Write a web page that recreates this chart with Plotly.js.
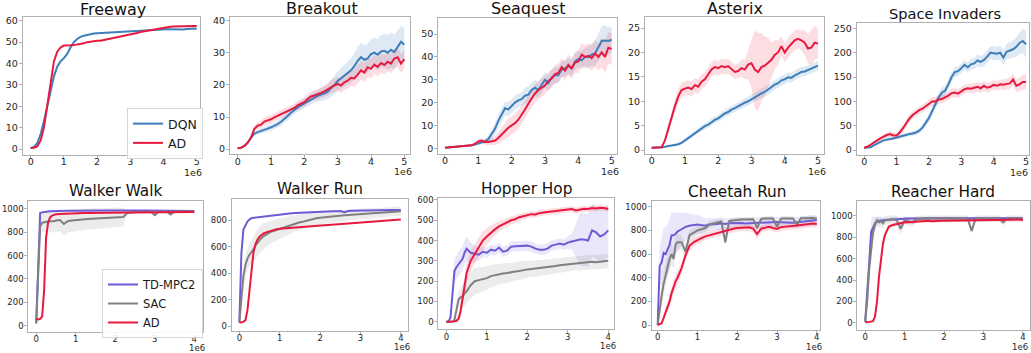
<!DOCTYPE html>
<html><head><meta charset="utf-8">
<script src="https://cdn.plot.ly/plotly-3.0.1.min.js"></script>
<style>html,body{margin:0;padding:0;background:#fff}#chart{width:1031px;height:353px}</style>
</head><body><div id="chart"></div>
<script>
// ---------- x grids (environment steps, in units of 1e6) ----------
const ATARI_X = [0,0.1,0.2,0.3,0.4,0.5,0.6,0.7,0.8,0.9,1.0,1.1,1.2,1.3,1.4,1.5,1.6,1.7,1.8,1.9,2.0,2.1,2.2,2.3,2.4,2.5,2.6,2.7,2.8,2.9,3.0,3.1,3.2,3.3,3.4,3.5,3.6,3.7,3.8,3.9,4.0,4.1,4.2,4.3,4.4,4.5,4.6,4.7,4.8,4.9,5.0];
const DMC_X = [0,0.05,0.1,0.15,0.2,0.25,0.3,0.35,0.4,0.45,0.5,0.6,0.7,0.8,0.9,1.0,1.1,1.2,1.3,1.4,1.5,1.6,1.7,1.8,1.9,2.0,2.1,2.2,2.3,2.4,2.5,2.6,2.7,2.8,2.9,3.0,3.1,3.2,3.3,3.4,3.5,3.6,3.7,3.8,3.9,4.0];

// ---------- Atari ----------
const freewayDQN = [0.5,1.0,2.8,7,13,20,28,34,38.5,41,42.5,44.5,47.5,50,51.5,52.5,53,53.4,53.7,54.0,54.2,54.3,54.3,54.4,54.5,54.6,54.7,54.8,54.9,55.0,55.1,55.2,55.3,55.4,55.5,55.6,55.7,55.8,55.9,56.0,56.0,56.0,56.0,55.9,55.8,55.8,55.9,56.1,56.3,56.4,56.3];
const freewayAD = [0.5,0.6,1.2,4,10,20,32,41,45.5,47.5,48.4,48.6,48.5,48.6,48.8,49.1,49.5,50.0,50.3,50.5,50.6,50.7,51.0,51.3,51.6,52.0,52.3,52.6,53.0,53.4,53.7,54.0,54.3,54.7,55.0,55.3,55.6,55.9,56.1,56.4,56.7,57.0,57.2,57.3,57.4,57.5,57.5,57.5,57.5,57.6,57.6];

const breakoutDQN = [0.3,0.4,1.0,2.0,3.5,4.8,5.3,5.6,6.0,6.4,6.8,7.2,7.8,8.5,9.3,10.3,11.3,12.3,13.0,13.6,14.2,14.8,15.6,16.2,16.6,17.0,17.3,17.9,18.8,20.0,21.2,22.0,23.0,23.6,24.5,25.8,27.5,28.6,27.8,28.2,29.6,30.0,29.4,30.4,30.6,30.0,30.9,30.2,31.8,33.4,32.5];
const breakoutDQNsd = [0.2,0.2,0.3,0.4,0.5,0.6,0.7,0.8,0.9,1.0,1.0,1.0,1.1,1.2,1.2,1.3,1.3,1.4,1.4,1.5,1.5,1.6,1.6,1.7,1.8,2.0,2.2,2.4,2.6,2.8,3.0,3.2,3.4,3.6,3.8,4.0,4.2,4.4,4.5,4.6,4.6,4.7,4.8,5.0,5.2,5.4,5.5,5.5,5.3,5.0,5.0];
const breakoutAD = [0.3,0.4,1.0,2.0,3.6,6.3,7.3,7.6,8.6,8.9,9.3,9.9,10.4,10.8,11.4,11.9,12.4,12.8,13.6,14.2,14.6,15.6,16.4,16.7,17.0,17.5,18.0,18.6,19.4,19.8,20.3,19.8,20.8,21.3,22.2,22.0,23.2,24.5,23.8,25.5,25.0,26.3,25.6,26.8,26.2,27.2,26.6,28.2,28.6,26.6,28.0];
const breakoutADsd = [0.2,0.2,0.3,0.4,0.6,0.8,1.0,1.2,1.3,1.3,1.3,1.3,1.3,1.3,1.3,1.3,1.3,1.3,1.4,1.4,1.4,1.5,1.5,1.6,1.6,1.7,1.8,1.9,2.0,2.1,2.2,2.3,2.4,2.5,2.6,2.7,2.8,2.9,3.0,3.0,3.0,3.0,3.0,3.0,3.0,3.0,3.0,3.0,3.0,3.0,3.0];

const seaquestDQN = [0.2,0.3,0.4,0.5,0.7,0.8,0.9,1.1,1.3,1.6,2.0,2.4,3.0,4.0,6.0,8.5,12,15,17.5,17,18.5,20,21,21.5,23,23.5,25.5,26.5,25.5,28,30,28.5,31,32,32,34.5,35,36,35,38,39,38.5,40,40,41,41.5,44.5,47,47.2,47,47.5];
const seaquestDQNsd = [0.2,0.2,0.2,0.2,0.3,0.3,0.3,0.4,0.4,0.5,0.6,0.8,1.0,1.5,2.0,2.5,3.0,3.0,3.0,3.0,3.0,3.0,3.0,3.0,3.5,3.5,3.5,3.5,3.5,3.5,3.5,3.5,3.5,3.5,3.5,3.5,3.5,3.5,3.5,3.5,3.5,4.0,4.0,4.5,5.0,5.5,6.0,6.5,6.5,6.0,5.5];
const seaquestAD = [0.2,0.3,0.4,0.5,0.7,0.8,0.9,1.1,1.3,2.0,3.0,3.4,2.8,2.8,3.0,3.4,4.5,6.0,7.5,9.0,10,11,12.5,14.5,17,19.5,22,24,25.5,26.5,27.5,29.5,30.5,32.5,33,35.5,34,36.5,35,37.5,38,41,40,40.5,39.5,41.5,40,42,40,44,43.5];
const seaquestADsd = [0.2,0.2,0.2,0.2,0.3,0.3,0.3,0.4,0.4,0.6,0.8,1.0,1.2,1.5,1.8,2.0,2.5,3.0,3.5,4.0,4.0,4.0,4.0,4.0,4.0,4.0,4.0,4.0,4.0,4.0,4.0,4.0,4.0,4.0,4.0,4.0,4.0,4.5,4.5,4.5,5.0,5.0,5.0,5.5,5.5,6.0,6.0,6.5,7.0,7.0,7.0];

const asterixDQN = [0.5,0.5,0.5,0.6,0.7,0.8,0.9,1.0,1.2,1.5,2.0,2.5,3.0,3.5,4.0,4.4,4.9,5.2,5.8,6.2,6.5,7.0,7.5,7.8,8.3,8.6,9.0,9.3,9.7,10.0,10.4,10.9,11.2,11.6,11.9,12.4,12.8,13.4,13.7,14.3,14.5,14.9,14.8,15.3,15.6,16.0,16.1,16.4,16.7,17.0,17.3];
const asterixDQNsd = [0.1,0.1,0.1,0.1,0.1,0.2,0.2,0.2,0.3,0.3,0.4,0.4,0.5,0.5,0.5,0.6,0.6,0.6,0.7,0.7,0.7,0.7,0.8,0.8,0.8,0.8,0.8,0.8,0.9,0.9,0.9,0.9,0.9,1.0,1.0,1.0,1.0,1.0,1.0,1.0,1.0,1.0,1.0,1.0,1.0,1.0,1.0,1.0,1.0,1.0,1.0];
const asterixAD = [0.5,0.5,0.5,0.6,2.0,4.5,7.0,9.0,11.0,12.3,12.6,12.8,12.5,13.3,13.0,14.0,14.5,15.5,16.5,17.0,16.8,17.2,17.0,17.2,16.5,16.0,16.2,16.8,16.5,17.5,17.8,16.5,16.0,17.0,17.3,18.0,18.5,19.5,20.0,21.3,20.0,21.0,21.8,22.5,22.8,22.5,22.0,20.8,21.0,22.0,21.8];
const asterixADsd = [0.1,0.1,0.1,0.2,0.5,0.8,1.0,1.2,1.5,1.5,1.5,1.5,1.5,1.5,1.5,1.5,1.5,1.5,1.5,1.5,1.5,1.5,1.5,1.5,1.5,1.5,1.5,1.8,2.0,3.0,5.0,8.0,8.0,7.0,6.0,5.0,3.5,3.0,2.5,2.0,2.0,2.0,2.0,2.0,2.0,2.0,2.5,3.0,3.5,3.5,3.0];

const invadersDQN = [5,5,6,10,14,17,20,22,23,24,26,28,30,31,33,34,36,40,46,56,66,80,95,108,118,122,135,150,160,162,168,175,170,176,178,184,181,185,192,200,199,198,200,190,202,205,207,212,220,224,217];
const invadersDQNsd = [2,2,2,2,3,3,3,3,3,3,4,4,4,4,5,5,5,6,7,8,9,10,10,10,10,10,10,10,10,10,10,10,10,11,11,12,12,12,13,13,14,14,15,15,16,17,18,20,22,25,28];
const invadersAD = [5,7,11,16,20,24,28,31,33,30,30,36,45,55,65,72,78,82,85,90,95,100,100,104,105,108,112,117,118,116,120,125,127,126,128,130,127,132,128,130,134,132,135,134,136,137,145,132,135,140,140];
const invadersADsd = [2,2,3,3,4,4,5,5,6,6,7,7,8,8,8,8,8,8,8,8,8,9,9,9,9,9,9,9,9,9,9,9,9,9,10,10,10,10,10,10,10,10,10,11,11,12,12,13,14,15,15];

// ---------- DMC ----------
const walkerWalkTD = [20,520,962,968,972,974,976,977,978,978,979,980,980,981,981,982,982,982,982,983,983,983,983,983,984,984,984,984,984,984,985,985,985,985,984,985,984,985,985,984,983,982,982,981,981,980];
const walkerWalkSAC = [30,420,850,880,885,890,890,893,890,893,898,902,870,892,898,903,906,910,912,914,916,918,919,921,923,924,926,928,962,968,972,972,973,974,974,945,973,975,976,950,975,976,976,977,977,976];
const walkerWalkSACsd = [5,100,80,80,85,90,90,90,95,95,95,95,100,95,95,95,90,90,90,90,90,85,85,85,85,80,80,80,12,10,10,10,10,10,10,10,10,10,10,10,10,10,10,10,10,10];
const walkerWalkAD = [60,55,60,80,300,750,880,925,940,948,952,955,957,958,959,960,961,962,962,963,963,964,964,965,965,965,966,966,966,967,967,967,968,968,968,968,969,969,969,970,970,970,970,970,971,971];

const walkerRunTD = [30,550,730,760,790,805,815,818,820,822,825,828,832,838,840,845,848,850,852,855,857,858,860,860,862,863,865,866,867,868,870,860,870,872,873,874,875,876,877,877,878,878,878,877,877,878];
const walkerRunSAC = [30,200,380,460,510,540,560,580,610,630,650,680,700,715,725,735,745,760,770,778,785,790,800,810,815,818,822,825,828,832,835,838,840,842,845,848,850,852,855,857,858,860,862,864,866,868];
const walkerRunSACsd = [5,60,80,80,80,90,90,90,100,100,100,100,90,85,80,80,75,70,65,60,60,55,55,50,50,50,50,48,45,45,45,42,40,40,40,40,38,38,38,36,36,36,35,35,35,35];
const walkerRunAD = [30,28,35,45,120,260,430,560,620,655,675,700,712,722,730,735,738,741,743,746,748,751,753,756,758,760,762,764,766,768,770,772,775,777,780,782,784,786,789,791,793,795,798,800,802,805];

const hopperTD = [0,0,20,150,250,270,285,300,310,340,360,340,335,330,345,340,355,350,365,345,350,370,372,372,372,375,370,360,355,355,360,375,380,385,380,390,395,400,405,405,400,450,440,420,430,450];
const hopperTDsd = [0,5,20,60,60,60,60,60,60,60,60,50,40,30,25,25,25,25,25,25,25,25,25,25,25,25,25,25,25,25,25,25,25,25,25,30,40,80,130,130,130,130,130,130,130,130];
const hopperSAC = [0,0,0,0,10,60,110,120,125,140,150,180,200,205,210,215,225,230,235,238,240,245,248,250,255,258,260,262,265,268,270,272,275,278,280,282,285,287,288,290,292,295,293,296,298,300];
const hopperSACsd = [0,0,0,0,5,20,40,50,60,60,60,65,65,65,60,60,55,55,50,50,50,45,45,45,45,40,40,40,40,40,38,38,36,36,35,35,35,35,35,35,35,35,35,35,35,35];
const hopperAD = [0,0,0,0,2,5,15,50,120,190,240,300,335,370,400,420,440,455,470,480,490,500,505,515,520,525,530,528,535,538,540,540,545,548,550,552,555,548,552,556,555,560,558,562,560,555];
const hopperADsd = [0,0,2,3,5,8,15,30,40,45,50,50,50,45,45,40,35,30,25,22,20,20,18,18,16,16,15,15,15,15,15,15,15,15,15,15,15,15,15,15,15,15,15,15,15,15];

const cheetahTD = [0,500,530,610,600,640,680,760,760,770,790,810,830,840,845,850,845,840,850,850,855,860,855,860,862,865,862,858,860,862,865,868,870,872,870,872,870,868,862,866,870,875,880,882,885,888];
const cheetahTDsd = [0,150,200,220,220,220,210,200,190,180,160,140,120,100,90,80,70,60,55,50,50,50,45,45,45,45,45,45,45,45,45,45,45,45,45,45,45,45,45,45,45,45,45,45,45,45];
const cheetahSAC = [0,150,250,350,430,500,560,600,560,680,700,700,620,760,780,800,810,820,850,860,870,875,700,880,885,890,892,893,895,895,820,898,900,900,900,830,900,902,902,902,850,903,903,905,905,900];
const cheetahSACsd = [0,50,80,100,100,100,90,90,80,80,70,60,60,50,40,40,35,35,30,25,25,25,25,20,20,20,20,20,20,20,20,20,20,20,20,20,20,20,20,20,20,20,20,20,20,20];
const cheetahAD = [0,5,15,60,110,160,200,270,330,370,400,480,590,670,700,720,735,750,760,770,780,790,800,808,815,820,822,825,826,815,770,815,825,830,820,812,828,833,836,838,842,846,850,855,858,855];
const cheetahADsd = [0,5,10,20,30,40,50,60,60,60,60,50,45,40,40,35,35,30,30,30,30,30,30,30,30,30,30,30,30,35,45,30,30,30,30,30,30,30,30,30,30,30,30,30,30,30];

const reacherTD = [10,250,550,850,900,930,950,955,960,962,963,965,968,975,975,976,977,977,978,978,978,978,978,978,978,978,978,978,978,978,978,978,978,978,978,978,978,978,978,978,978,978,978,978,978,978];
const reacherTDsd = [0,100,150,120,100,60,40,30,25,20,20,20,20,20,15,15,15,15,15,15,15,15,15,15,15,15,15,15,15,15,15,15,15,15,15,15,15,15,15,15,15,15,15,15,15,15];
const reacherSAC = [10,200,500,700,850,920,960,940,950,930,960,965,970,960,880,960,950,940,970,975,975,975,975,975,975,975,975,975,975,975,975,975,860,975,975,975,975,975,975,975,940,975,975,975,975,975];
const reacherSACsd = [0,80,100,100,80,60,50,50,50,50,40,40,40,40,60,40,40,40,30,30,30,30,30,30,30,30,30,30,30,30,30,30,30,30,30,30,30,30,30,30,30,30,30,30,30,30];
const reacherAD = [10,5,8,12,15,60,200,430,620,740,820,900,915,925,935,940,942,945,948,950,952,954,950,954,955,955,955,956,956,957,958,958,959,960,960,960,961,962,963,964,965,966,968,970,966,962];
const reacherADsd = [0,5,5,5,10,30,60,60,50,40,30,20,15,15,15,15,15,15,15,15,15,15,15,15,15,15,15,15,15,15,15,15,15,15,15,15,15,15,15,15,15,15,15,15,15,15];

const TITLES = ['Freeway','Breakout','Seaquest','Asterix','Space Invaders','Walker Walk','Walker Run','Hopper Hop','Cheetah Run','Reacher Hard'];

// ---------- styles ----------
const COLORS = {'DQN':'#3d7ebb','AD':'#e8193f','TD-MPC2':'#6b5bd6','SAC':'#808080'};
const BANDS = {'DQN':'rgba(61,126,187,0.17)','AD':'rgba(232,25,63,0.15)','TD-MPC2':'rgba(107,91,214,0.15)','SAC':'rgba(128,128,128,0.15)'};

const panels = [
 {box:[22.7,200,16.7,155], xr:[-0.24,5.1], yr:[-2.8,61.9], dy:10, ts:16, tx:113, ty:9, x:ATARI_X, fs:9.5, so:-5, e6:17.5,
  s:[['DQN',freewayDQN,null],['AD',freewayAD,null]], leg:'legend'},
 {box:[230,410,16.7,154.3], xr:[-0.23,5.17], yr:[-1.6,41.2], dy:10, ts:16, tx:321.7, ty:8.5, x:ATARI_X, fs:9.5, so:-5, e6:17.5,
  s:[['DQN',breakoutDQN,breakoutDQNsd],['AD',breakoutAD,breakoutADsd]]},
 {box:[438.3,616.7,18.3,154], xr:[-0.2,5.15], yr:[-2.5,56.9], dy:10, ts:16, tx:528, ty:8.5, x:ATARI_X, fs:9.5, so:-5, e6:17.5,
  s:[['DQN',seaquestDQN,seaquestDQNsd],['AD',seaquestAD,seaquestADsd]]},
 {box:[645,824.3,17.3,154], xr:[-0.2,5.19], yr:[-0.8,27.2], dy:5, ts:16, tx:735, ty:8.5, x:ATARI_X, fs:9.5, so:-5, e6:17.5,
  s:[['DQN',asterixDQN,asterixDQNsd],['AD',asterixAD,asterixADsd]]},
 {box:[856.7,1029.3,22.7,155], xr:[-0.23,5.1], yr:[-10,261.5], dy:50, ts:14.6, tx:945, ty:13.3, x:ATARI_X, fs:9.5, so:-5, e6:17.5,
  s:[['DQN',invadersDQN,invadersDQNsd],['AD',invadersAD,invadersADsd]]},
 {box:[28.3,203,201,331.5], xr:[-0.2,4.22], yr:[-48,1065], dy:200, ts:15.3, tx:115, ty:191, x:DMC_X, fs:8.5, so:-4, e6:16.5,
  s:[['TD-MPC2',walkerWalkTD,null],['SAC',walkerWalkSAC,walkerWalkSACsd],['AD',walkerWalkAD,null]], leg:'legend2'},
 {box:[231.7,407.7,199.3,330.5], xr:[-0.19,4.17], yr:[-32,958], dy:200, ts:15.3, tx:320, ty:188.7, x:DMC_X, fs:8.5, so:-4, e6:16.5,
  s:[['TD-MPC2',walkerRunTD,null],['SAC',walkerRunSAC,walkerRunSACsd],['AD',walkerRunAD,null]]},
 {box:[438.3,614.3,197.7,329.3], xr:[-0.2,4.15], yr:[-37,611], dy:100, ts:15.3, tx:526.7, ty:188.7, x:DMC_X, fs:8.5, so:-4, e6:16.5,
  s:[['TD-MPC2',hopperTD,hopperTDsd],['SAC',hopperSAC,hopperSACsd],['AD',hopperAD,hopperADsd]]},
 {box:[651.7,820,201,330], xr:[-0.15,4.08], yr:[-42,1049], dy:200, ts:15.3, tx:736.7, ty:192, x:DMC_X, fs:8.5, so:-4, e6:16.5,
  s:[['TD-MPC2',cheetahTD,cheetahTDsd],['SAC',cheetahSAC,cheetahSACsd],['AD',cheetahAD,cheetahADsd]]},
 {box:[857.3,1030,201,330], xr:[-0.2,4.18], yr:[-68,1140], dy:200, ts:15.3, tx:943, ty:192, x:DMC_X, fs:8.5, so:-4, e6:16.5,
  s:[['TD-MPC2',reacherTD,reacherTDsd],['SAC',reacherSAC,reacherSACsd],['AD',reacherAD,reacherADsd]]}
];

const W = 1031, H = 353;
const FONT = 'DejaVu Sans, Liberation Sans, sans-serif';
const traces = [];
const layout = {
  width:W, height:H, margin:{l:0,r:0,t:0,b:0},
  paper_bgcolor:'#ffffff', plot_bgcolor:'#ffffff',
  font:{family:FONT, size:9.5, color:'#262626'},
  showlegend:true, annotations:[],
  legend:{x:127/W, y:1-108/H, xanchor:'left', yanchor:'top', bgcolor:'rgba(255,255,255,0.9)', traceorder:'normal',
          bordercolor:'#d6d6d6', borderwidth:1, font:{family:FONT,size:12.5,color:'#1a1a1a'}, itemwidth:30, tracegroupgap:0},
  legend2:{x:102/W, y:1-269/H, xanchor:'left', yanchor:'top', bgcolor:'rgba(255,255,255,0.9)', traceorder:'normal',
          bordercolor:'#d6d6d6', borderwidth:1, font:{family:FONT,size:11.5,color:'#1a1a1a'}, itemwidth:30, tracegroupgap:0}
};

panels.forEach((p,i)=>{
  const n = i+1, suf = n===1 ? '' : String(n);
  const xa = 'x'+suf, ya = 'y'+suf;
  const axBase = {showgrid:false, zeroline:false, showline:true, mirror:true, linecolor:'#b0b0b0', linewidth:1,
                  ticks:'outside', ticklen:3, tickwidth:1, tickcolor:'#b0b0b0', tickfont:{family:FONT,size:p.fs,color:'#262626'}, fixedrange:true};
  layout['xaxis'+suf] = Object.assign({}, axBase, {domain:[p.box[0]/W, p.box[1]/W], range:p.xr, anchor:ya, tick0:0, dtick:1, ticklabelstandoff:p.so});
  layout['yaxis'+suf] = Object.assign({}, axBase, {domain:[1-p.box[3]/H, 1-p.box[2]/H], range:p.yr, anchor:xa, tick0:0, dtick:p.dy, ticklabelstandoff:-1});
  p.s.forEach(([name, mean, sd])=>{
    if (sd) {
      traces.push({x:p.x, y:mean.map((v,k)=>v-sd[k]), xaxis:xa, yaxis:ya, mode:'lines', line:{width:0,color:BANDS[name]}, showlegend:false, hoverinfo:'skip'});
      traces.push({x:p.x, y:mean.map((v,k)=>v+sd[k]), xaxis:xa, yaxis:ya, mode:'lines', line:{width:0,color:BANDS[name]}, fill:'tonexty', fillcolor:BANDS[name], showlegend:false, hoverinfo:'skip'});
    }
  });
  p.s.forEach(([name, mean])=>{
    const t = {x:p.x, y:mean, xaxis:xa, yaxis:ya, mode:'lines', name:name, line:{color:COLORS[name], width:2}, showlegend:!!p.leg};
    if (p.leg) t.legend = p.leg;
    traces.push(t);
  });
  layout.annotations.push({text:TITLES[i], xref:'paper', yref:'paper', x:p.tx/W, y:1-p.ty/H, xanchor:'center', yanchor:'middle',
    showarrow:false, font:{family:FONT, size:p.ts, color:'#111'}});
  layout.annotations.push({text:'1e6', xref:'paper', yref:'paper', x:Math.min(p.box[1]+4, W-1)/W, y:1-(p.box[3]+p.e6)/H, xanchor:'right', yanchor:'middle',
    showarrow:false, font:{family:FONT, size:p.fs, color:'#262626'}});
});

Plotly.newPlot('chart', traces, layout, {displayModeBar:false, staticPlot:true});
</script></body></html>
